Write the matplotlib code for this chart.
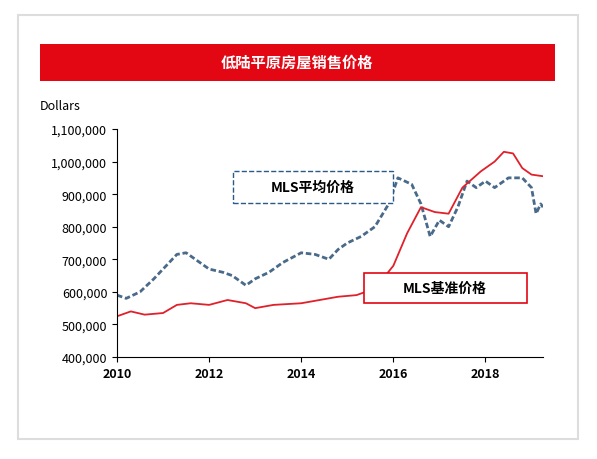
import matplotlib.pyplot as plt
from matplotlib.patches import Rectangle

plt.rcParams['font.family'] = ['Noto Sans CJK SC', 'DejaVu Sans']

# average price (dashed)
avg_x = [2010.0, 2010.2, 2010.5, 2010.8, 2011.0, 2011.3, 2011.5, 2011.8, 2012.0, 2012.3, 2012.5, 2012.8,
         2013.0, 2013.3, 2013.6, 2014.0, 2014.3, 2014.6, 2014.8, 2015.0, 2015.3, 2015.6, 2015.9, 2016.1,
         2016.4, 2016.6, 2016.8, 2017.0, 2017.2, 2017.4, 2017.6, 2017.8, 2018.0, 2018.2, 2018.5, 2018.8,
         2019.0, 2019.1, 2019.2, 2019.25]
avg_y = [590, 580, 600, 640, 670, 715, 720, 690, 670, 660, 650, 620,
         640, 660, 690, 720, 715, 700, 730, 750, 770, 800, 870, 950,
         930, 870, 770, 820, 800, 860, 940, 920, 940, 920, 950, 950,
         920, 840, 870, 860]
# benchmark price (red)
bench_x = [2010.0, 2010.3, 2010.6, 2011.0, 2011.3, 2011.6, 2012.0, 2012.4, 2012.8, 2013.0, 2013.4, 2014.0,
           2014.4, 2014.8, 2015.2, 2015.6, 2016.0, 2016.3, 2016.6, 2016.9, 2017.2, 2017.5, 2017.9, 2018.2,
           2018.4, 2018.6, 2018.8, 2019.0, 2019.25]
bench_y = [525, 540, 530, 535, 560, 565, 560, 575, 565, 550, 560, 565,
           575, 585, 590, 610, 680, 780, 860, 845, 840, 920, 970, 1000,
           1030, 1025, 980, 960, 955]

fig = plt.figure(figsize=(5.97, 4.6), dpi=100)
fig.patches.append(Rectangle((18/597, 1-440/460), 560/597, 424/460, transform=fig.transFigure,
                             fc='white', ec='#dddddd', lw=1.5, zorder=-10))
fig.patches.append(Rectangle((40/597, 1-82/460), 515/597, 37/460, transform=fig.transFigure,
                             fc='#e30613', ec='none', zorder=-5))
fig.text(297/597, 1-63/460, '低陆平原房屋销售价格', color='white', ha='center', va='center',
         fontsize=11, fontweight='bold')
fig.text(40/597, 1-110/460, 'Dollars', fontsize=9)

ax = fig.add_axes([117/597, 1-358/460, 426/597, 228/460])
ax.set_zorder(1)
ax.patch.set_alpha(0)
ax.plot(avg_x, [v*1000 for v in avg_y], color='#4a6a8a', ls=(0, (2, 1)), lw=2)
ax.plot(bench_x, [v*1000 for v in bench_y], color='#e0202a', lw=1.3)
ax.set_xlim(2010, 2019.25)
ax.set_ylim(400000, 1100000)
ax.set_xticks([2010, 2012, 2014, 2016, 2018])
ax.set_yticks(range(400000, 1100001, 100000))
ax.yaxis.set_major_formatter(plt.FuncFormatter(lambda v, p: f'{int(v):,}'))
for lab in ax.get_xticklabels():
    lab.set_fontweight('bold')
ax.tick_params(labelsize=9)
for s in ['top', 'right']:
    ax.spines[s].set_visible(False)

fig.patches.append(Rectangle((233/597, 1-204/460), 160/597, 32/460, transform=fig.transFigure,
                             fc='white', ec='#2a5a8a', ls='--', lw=1, zorder=5))
fig.text(313/597, 1-188/460, 'MLS平均价格', ha='center', va='center', fontsize=10,
         fontweight='bold', zorder=6)
fig.patches.append(Rectangle((364/597, 1-304/460), 163/597, 30/460, transform=fig.transFigure,
                             fc='white', ec='#e30613', lw=1.2, zorder=5))
fig.text(445/597, 1-289/460, 'MLS基准价格', ha='center', va='center', fontsize=10,
         fontweight='bold', zorder=6)

fig.savefig('out.png')
